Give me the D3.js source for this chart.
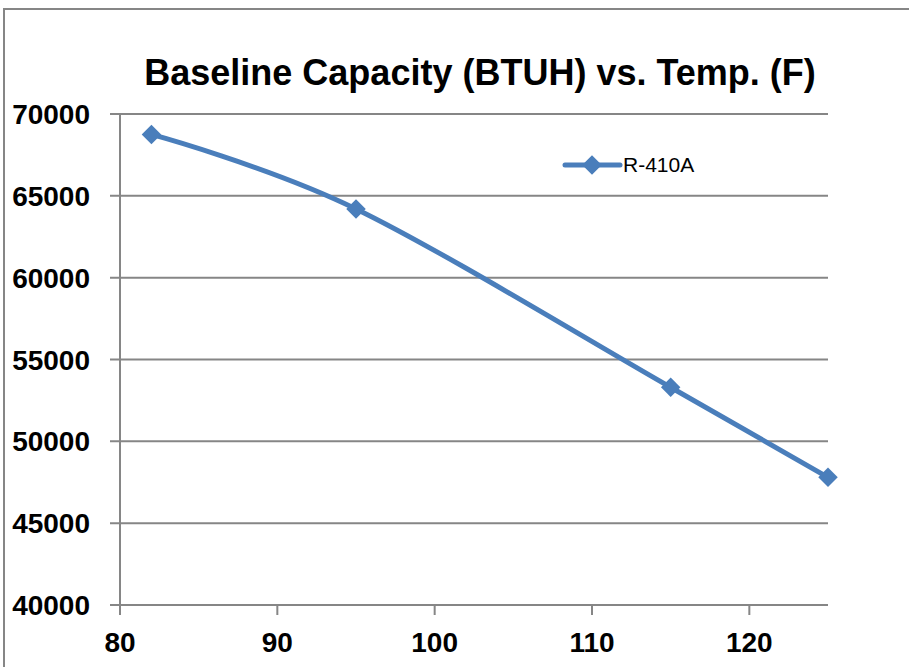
<!DOCTYPE html>
<html>
<head>
<meta charset="utf-8">
<script src="https://cdn.jsdelivr.net/npm/d3@7"></script>
<style>
  body { margin: 0; background: #fff; }
  svg { display: block; }
  text { font-family: "Liberation Sans", Arial, sans-serif; }
</style>
</head>
<body>
<svg id="chart" width="909" height="667"></svg>
<script>
// data
const temps = [82, 95, 115, 125];
const capacity = [68750, 64200, 53300, 47800];
const xTicks = [80, 90, 100, 110, 120];
const yTicks = [40000, 45000, 50000, 55000, 60000, 65000, 70000];
const seriesName = 'R-410A';
const title = 'Baseline Capacity (BTUH) vs. Temp. (F)';

const svg = d3.select('#chart');
const gray = '#868686';
const blue = '#4a7ebb';

// chart frame (runs off right/bottom edge like the reference)
svg.append('rect')
  .attr('x', 4).attr('y', 9)
  .attr('width', 940).attr('height', 700)
  .attr('fill', 'none')
  .attr('stroke', gray)
  .attr('stroke-width', 2);

const x = d3.scaleLinear().domain([80, 125]).range([120, 828]);
const y = d3.scaleLinear().domain([40000, 70000]).range([605, 114]);

// horizontal gridlines with outward tick
svg.append('g').selectAll('line')
  .data(yTicks)
  .enter().append('line')
  .attr('x1', 110).attr('x2', x(125))
  .attr('y1', d => y(d)).attr('y2', d => y(d))
  .attr('stroke', gray).attr('stroke-width', 2);

// y axis line
svg.append('line')
  .attr('x1', x(80)).attr('x2', x(80))
  .attr('y1', y(70000)).attr('y2', y(40000))
  .attr('stroke', gray).attr('stroke-width', 2);

// x ticks
svg.append('g').selectAll('line')
  .data(xTicks)
  .enter().append('line')
  .attr('x1', d => x(d)).attr('x2', d => x(d))
  .attr('y1', y(40000)).attr('y2', y(40000) + 10)
  .attr('stroke', gray).attr('stroke-width', 2);

// y labels
svg.append('g').selectAll('text')
  .data(yTicks)
  .enter().append('text')
  .attr('x', 90)
  .attr('y', d => y(d) + 10)
  .attr('text-anchor', 'end')
  .style('font-size', '28px')
  .style('font-weight', 'bold')
  .text(d => d);

// x labels
svg.append('g').selectAll('text')
  .data(xTicks)
  .enter().append('text')
  .attr('x', d => x(d))
  .attr('y', 652)
  .attr('text-anchor', 'middle')
  .style('font-size', '28px')
  .style('font-weight', 'bold')
  .text(d => d);

// title
svg.append('text')
  .attr('x', 480)
  .attr('y', 85)
  .attr('text-anchor', 'middle')
  .style('font-size', '36px')
  .style('font-weight', 'bold')
  .text(title);

// series line, smoothed like excel
const pts = temps.map((t, i) => [t, capacity[i]]);
const line = d3.line()
  .x(d => x(d[0]))
  .y(d => y(d[1]))
  .curve(d3.curveCatmullRom.alpha(0));

svg.append('path')
  .datum(pts)
  .attr('d', line)
  .attr('fill', 'none')
  .attr('stroke', blue)
  .attr('stroke-width', 5)
  .attr('stroke-linejoin', 'round');

const diamond = d3.symbol().type(d3.symbolSquare).size(190);

svg.append('g').selectAll('path')
  .data(pts)
  .enter().append('path')
  .attr('d', diamond)
  .attr('transform', d => `translate(${x(d[0])},${y(d[1])}) rotate(45)`)
  .attr('fill', blue);

// legend
const leg = svg.append('g').attr('transform', 'translate(565,165)');
leg.append('line')
  .attr('x1', 0).attr('x2', 55)
  .attr('stroke', blue).attr('stroke-width', 5)
  .attr('stroke-linecap', 'round');
leg.append('path')
  .attr('d', diamond)
  .attr('transform', 'translate(27,0) rotate(45)')
  .attr('fill', blue);
leg.append('text')
  .attr('x', 58).attr('y', 7)
  .style('font-size', '21px')
  .text(seriesName);
</script>
</body>
</html>
